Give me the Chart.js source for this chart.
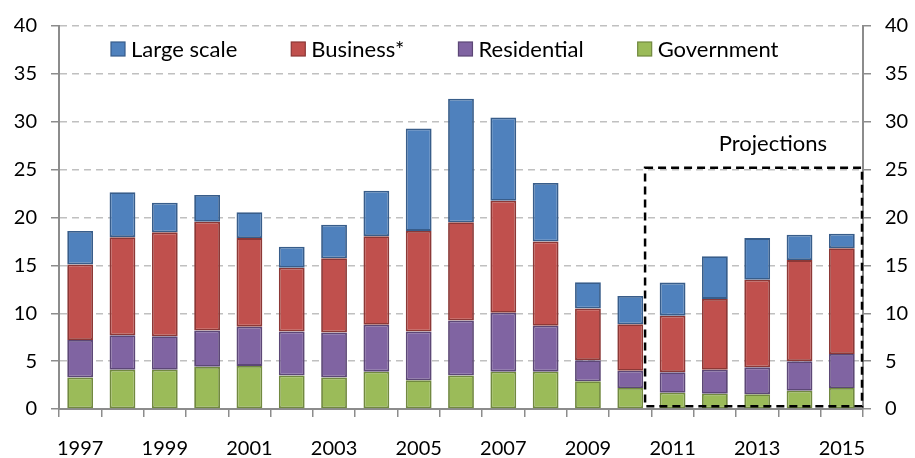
<!DOCTYPE html>
<html>
<head>
<meta charset="utf-8">
<script src="https://cdn.jsdelivr.net/npm/chart.js@4"></script>
<style>
  html, body { margin: 0; padding: 0; background: #fff; }
  #wrap { width: 915px; height: 458px; position: relative; }
</style>
</head>
<body>
<div id="wrap"><canvas id="chart"></canvas></div>
<script>
/* ========= DATA ========= */

const years = ["1997", "1998", "1999", "2000", "2001", "2002", "2003", "2004", "2005", "2006",
  "2007", "2008", "2009", "2010", "2011", "2012", "2013", "2014", "2015"];

const government  = [3.3, 4.1, 4.1, 4.4, 4.5, 3.5, 3.3, 3.9, 3.0, 3.5, 3.9, 3.9, 2.9, 2.2, 1.7, 1.6, 1.55, 1.9, 2.2];
const residential = [3.9, 3.6, 3.5, 3.8, 4.1, 4.6, 4.7, 4.9, 5.1, 5.75, 6.15, 4.8, 2.2, 1.8, 2.15, 2.5, 2.8, 3.1, 3.55];
const business    = [7.9, 10.25, 10.85, 11.35, 9.25, 6.65, 7.75, 9.25, 10.5, 10.25, 11.7, 8.8, 5.4, 4.85, 5.9, 7.4, 9.15, 10.55, 11.05];
const largeScale  = [3.5, 4.7, 3.1, 2.8, 2.7, 2.2, 3.5, 4.75, 10.7, 12.9, 8.7, 6.1, 2.75, 2.95, 3.45, 4.45, 4.35, 2.65, 1.5];

const yTicks = [0, 5, 10, 15, 20, 25, 30, 35, 40];
const projectionLabel = "Projections";


/* ========= STYLE ========= */

const FONT = "Lato, 'Noto Sans', sans-serif";
const AXIS_GRAY = "#8c8c8c";
const GRID_GRAY = "#c0c0c0";


/* ========= PLUGINS ========= */

// legend drawn inside the plot, along the top
const insideLegend = {
  id: "insideLegend",
  afterDraw(chart) {
    const ctx = chart.ctx;
    const area = chart.chartArea;
    const items = chart.data.datasets.slice().reverse();
    ctx.save();
    ctx.font = "22px " + FONT;
    ctx.textBaseline = "middle";
    let x = area.left + 52;
    const y = 49;
    items.forEach(ds => {
      ctx.fillStyle = ds.backgroundColor;
      ctx.strokeStyle = ds.borderColor;
      ctx.lineWidth = 1.2;
      ctx.fillRect(x, y - 7, 14, 14);
      ctx.strokeRect(x, y - 7, 14, 14);
      ctx.fillStyle = "#000";
      ctx.fillText(ds.label, x + 20, y + 1);
      x += 20 + ctx.measureText(ds.label).width + 54;
    });
    ctx.restore();
  }
};

// dashed box round the projected years
const projectionBox = {
  id: "projectionBox",
  afterDatasetsDraw(chart) {
    const ctx = chart.ctx;
    const xs = chart.scales.x;
    const ys = chart.scales.y;
    const left = xs.getPixelForValue(13.35);
    const right = chart.chartArea.right - 1;
    const top = ys.getPixelForValue(25.2);
    const bottom = ys.getPixelForValue(0.3);
    ctx.save();
    ctx.strokeStyle = "#000";
    ctx.lineWidth = 2.5;
    ctx.setLineDash([8, 5]);
    ctx.strokeRect(left, top, right - left, bottom - top);
    ctx.setLineDash([]);
    ctx.font = "22px " + FONT;
    ctx.fillStyle = "#000";
    ctx.textAlign = "right";
    ctx.textBaseline = "alphabetic";
    ctx.fillText(projectionLabel, right - 35, ys.getPixelForValue(26.9));
    ctx.restore();
  }
};


/* ========= CHART ========= */

function barSet(label, data, fill, border) {
  return {
    label: label,
    data: data,
    backgroundColor: fill,
    borderColor: border,
    borderWidth: 1.8,
    borderSkipped: false,
    categoryPercentage: 1,
    barPercentage: 0.61
  };
}

function yAxis(position) {
  return {
    position: position,
    stacked: true,
    min: 0,
    max: 40,
    afterBuildTicks: axis => { axis.ticks = yTicks.map(v => ({ value: v })); },
    afterFit: axis => { axis.width = position === "left" ? 59 : 52; },
    grid: {
      color: GRID_GRAY,
      lineWidth: 1.5,
      tickColor: AXIS_GRAY,
      tickLength: 8,
      tickWidth: 1.5,
      drawOnChartArea: position === "left"
    },
    border: { display: true, color: AXIS_GRAY, width: 2, dash: [7, 5] },
    ticks: {
      color: "#000",
      padding: 14,
      font: { family: FONT, size: 20 }
    }
  };
}

new Chart(document.getElementById("chart"), {
  type: "bar",
  data: {
    labels: years,
    datasets: [
      barSet("Government", government, "#9bbb59", "#71893f"),
      barSet("Residential", residential, "#8064a2", "#5c4776"),
      barSet("Business*", business, "#c0504d", "#8c3836"),
      barSet("Large scale", largeScale, "#4f81bd", "#385d8a")
    ]
  },
  options: {
    responsive: true,
    maintainAspectRatio: false,
    animation: false,
    layout: { padding: { top: 23, left: 0, right: 0, bottom: 0 } },
    plugins: {
      legend: { display: false },
      tooltip: { enabled: false }
    },
    scales: {
      x: {
        stacked: true,
        afterFit: axis => { axis.height = 49; },
        grid: {
          offset: true,
          drawOnChartArea: false,
          color: AXIS_GRAY,
          tickLength: 8,
          lineWidth: 1.5
        },
        border: { display: true, color: AXIS_GRAY, width: 2 },
        ticks: {
          color: "#000",
          autoSkip: false,
          maxRotation: 0,
          padding: 20,
          font: { family: FONT, size: 20 },
          callback: function (value, index) {
            return index % 2 === 0 ? this.getLabelForValue(value) : "";
          }
        }
      },
      y: yAxis("left"),
      y2: yAxis("right")
    }
  },
  plugins: [insideLegend, projectionBox]
});
</script>
</body>
</html>
